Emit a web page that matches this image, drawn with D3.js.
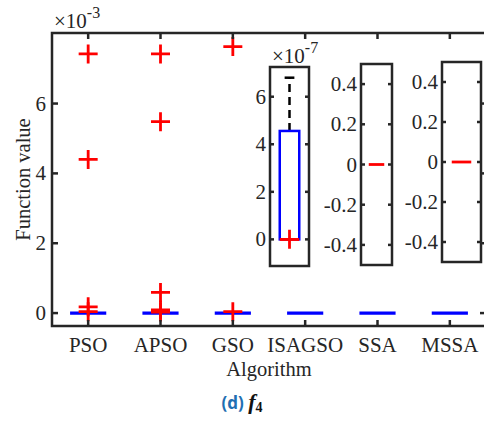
<!DOCTYPE html>
<html>
<head>
<meta charset="utf-8">
<script src="https://cdn.jsdelivr.net/npm/d3@7"></script>
<style>
  body { margin: 0; background: #fff; }
  svg text { font-family: "Liberation Serif", "Times New Roman", serif; fill: #262626; }
</style>
</head>
<body>
<svg id="chart" width="484" height="427"></svg>
<script>
// main plot data (values in units of 1e-3)
const algorithms = ["PSO", "APSO", "GSO", "ISAGSO", "SSA", "MSSA"];
const boxQ1 = [0, 0, 0, 0, 0, 0];
const boxMedian = [0, 0, 0, 0, 0, 0];
const boxQ3 = [0, 0, 0, 0, 0, 0];
const outliers = [
    [7.42, 4.40, 0.18, 0.04],
    [7.42, 5.48, 0.59, 0.09, 0.03],
    [7.63, 0.04],
    [],
    [],
    []
];
const mainYTicks = [0, 2, 4, 6];

// inset data
const insetNames = ["ISAGSO", "SSA", "MSSA"];
const insetQ1 = [0, 0, 0];
const insetMedian = [0, 0, 0];
const insetQ3 = [4.56, 0, 0];
const insetWhiskerHi = [6.8, 0, 0];
const insetOutliers = [[0], [], []];
const insetYTicks = [[0, 2, 4, 6], [-0.4, -0.2, 0, 0.2, 0.4], [-0.4, -0.2, 0, 0.2, 0.4]];
const insetExponent = ["-7", null, null];

const svg = d3.select("#chart");
const axisColor = "#262626";
const red = "#ff0000", blue = "#0000ff";
const serif = "'Liberation Serif', 'Times New Roman', serif";
const tickSize = 21;

// ---------- main axes ----------
const main = { left: 52, right: 486, top: 33, bottom: 326 };
const x = d3.scaleLinear().domain([0.5, algorithms.length + 0.5]).range([main.left, main.right]);
const y = d3.scaleLinear().domain([-0.37, 8.02]).range([main.bottom, main.top]);

const g = svg.append("g");

function drawCross(sel, cx, cy) {
    sel.append("path")
        .attr("d", `M${cx - 9.5},${cy}H${cx + 9.5}M${cx},${cy - 9.5}V${cy + 9.5}`)
        .attr("stroke", red).attr("stroke-width", 2.8).attr("fill", "none");
}

function label(sel, tx, ty, txt, size, anchor) {
    return sel.append("text").attr("x", tx).attr("y", ty)
        .attr("font-family", serif).attr("font-size", size)
        .attr("text-anchor", anchor).text(txt);
}

// boxes (collapsed at zero)
algorithms.forEach((name, i) => {
    const cx = x(i + 1), hw = (x(1.25) - x(1));
    g.append("rect")
        .attr("x", cx - hw).attr("width", 2 * hw)
        .attr("y", y(boxQ3[i])).attr("height", Math.max(0, y(boxQ1[i]) - y(boxQ3[i])))
        .attr("fill", "none").attr("stroke", blue).attr("stroke-width", 3.2);
    g.append("line")
        .attr("x1", cx - hw).attr("x2", cx + hw)
        .attr("y1", y(boxMedian[i])).attr("y2", y(boxMedian[i]))
        .attr("stroke", blue).attr("stroke-width", 3.2);
});
algorithms.forEach((name, i) => {
    outliers[i].forEach(v => drawCross(g, x(i + 1), y(v)));
});

// axis frame
g.append("path")
    .attr("d", `M${main.left},${main.bottom}V${main.top}H${main.right}V${main.bottom}Z`)
    .attr("fill", "none").attr("stroke", axisColor).attr("stroke-width", 2.5);

// x ticks, inward on bottom and top
algorithms.forEach((name, i) => {
    const cx = x(i + 1);
    g.append("line").attr("x1", cx).attr("x2", cx).attr("y1", main.bottom).attr("y2", main.bottom - 6)
        .attr("stroke", axisColor).attr("stroke-width", 2.5);
    g.append("line").attr("x1", cx).attr("x2", cx).attr("y1", main.top).attr("y2", main.top + 6)
        .attr("stroke", axisColor).attr("stroke-width", 2.5);
    label(g, cx, main.bottom + 26, name, tickSize, "middle");
});

mainYTicks.forEach(t => {
    const ty = y(t);
    g.append("line").attr("x1", main.left).attr("x2", main.left + 6).attr("y1", ty).attr("y2", ty)
        .attr("stroke", axisColor).attr("stroke-width", 2.5);
    g.append("line").attr("x1", main.right).attr("x2", main.right - 6).attr("y1", ty).attr("y2", ty)
        .attr("stroke", axisColor).attr("stroke-width", 2.5);
    label(g, main.left - 6, ty + 7, t, tickSize, "end");
});

// exponent
function exponent(sel, ex, ey, pow) {
    const t = label(sel, ex, ey, null, tickSize, "start");
    t.append("tspan").text("\u00d710");
    t.append("tspan").attr("dy", -10).attr("font-size", 16).text(pow);
}
exponent(g, 54, 28, "-3");

// axis titles
label(g, (main.left + main.right) / 2, main.bottom + 50, "Algorithm", 20.5, "middle");
label(g, 0, 0, "Function value", 20.5, "middle")
    .attr("transform", `translate(30,${(main.top + main.bottom) / 2}) rotate(-90)`);

// ---------- insets ----------
const insetBoxes = [
    { left: 270, right: 309, top: 67, bottom: 266, domain: [-1.12, 7.25] },
    { left: 361, right: 392, top: 64, bottom: 265, domain: [-0.5, 0.5] },
    { left: 442, right: 481, top: 62, bottom: 262, domain: [-0.5, 0.5] }
];

insetNames.forEach((name, k) => {
    const b = insetBoxes[k];
    const ig = svg.append("g");
    const ix = d3.scaleLinear().domain([0.5, 1.5]).range([b.left, b.right]);
    const iy = d3.scaleLinear().domain(b.domain).range([b.bottom, b.top]);

    ig.append("rect").attr("x", b.left).attr("y", b.top)
        .attr("width", b.right - b.left).attr("height", b.bottom - b.top).attr("fill", "#fff");

    const cx = ix(1), hw = ix(1.25) - ix(1);
    // whisker
    if (insetWhiskerHi[k] > insetQ3[k]) {
        ig.append("line").attr("x1", cx).attr("x2", cx)
            .attr("y1", iy(insetQ3[k])).attr("y2", iy(insetWhiskerHi[k]))
            .attr("stroke", "#000").attr("stroke-width", 2.5).attr("stroke-dasharray", "8,5");
        ig.append("line").attr("x1", cx - hw / 2).attr("x2", cx + hw / 2)
            .attr("y1", iy(insetWhiskerHi[k])).attr("y2", iy(insetWhiskerHi[k]))
            .attr("stroke", "#000").attr("stroke-width", 2.5);
    }
    if (insetQ3[k] > insetQ1[k]) {
        ig.append("rect").attr("x", cx - hw).attr("width", 2 * hw)
            .attr("y", iy(insetQ3[k])).attr("height", iy(insetQ1[k]) - iy(insetQ3[k]))
            .attr("fill", "none").attr("stroke", blue).attr("stroke-width", 2.5);
    }
    ig.append("line").attr("x1", cx - hw).attr("x2", cx + hw)
        .attr("y1", iy(insetMedian[k])).attr("y2", iy(insetMedian[k]))
        .attr("stroke", red).attr("stroke-width", 2.8);
    insetOutliers[k].forEach(v => drawCross(ig, cx, iy(v)));

    ig.append("rect").attr("x", b.left).attr("y", b.top)
        .attr("width", b.right - b.left).attr("height", b.bottom - b.top)
        .attr("fill", "none").attr("stroke", axisColor).attr("stroke-width", 2.5);

    insetYTicks[k].forEach(t => {
        const ty = iy(t);
        ig.append("line").attr("x1", b.left).attr("x2", b.left + 4).attr("y1", ty).attr("y2", ty)
            .attr("stroke", axisColor).attr("stroke-width", 2.5);
        ig.append("line").attr("x1", b.right).attr("x2", b.right - 4).attr("y1", ty).attr("y2", ty)
            .attr("stroke", axisColor).attr("stroke-width", 2.5);
        label(ig, b.left - 4, ty + 7, t, tickSize, "end");
    });
    if (insetExponent[k]) exponent(ig, b.left + 2, b.top - 4, insetExponent[k]);
});

// ---------- caption ----------
const cap = svg.append("text").attr("x", 242).attr("y", 409).attr("text-anchor", "middle");
cap.append("tspan").attr("font-family", "'Open Sans', 'DejaVu Sans', sans-serif")
    .attr("font-weight", "bold").attr("font-size", 17).style("fill", "#1f6fb2").text("(d) ");
cap.append("tspan").attr("font-family", serif).attr("font-weight", "bold").attr("font-style", "italic")
    .attr("font-size", 22).style("fill", "#111").text("f");
cap.append("tspan").attr("font-family", serif).attr("font-weight", "bold").attr("font-size", 14).attr("dy", 3)
    .style("fill", "#111").text("4");
</script>
</body>
</html>
